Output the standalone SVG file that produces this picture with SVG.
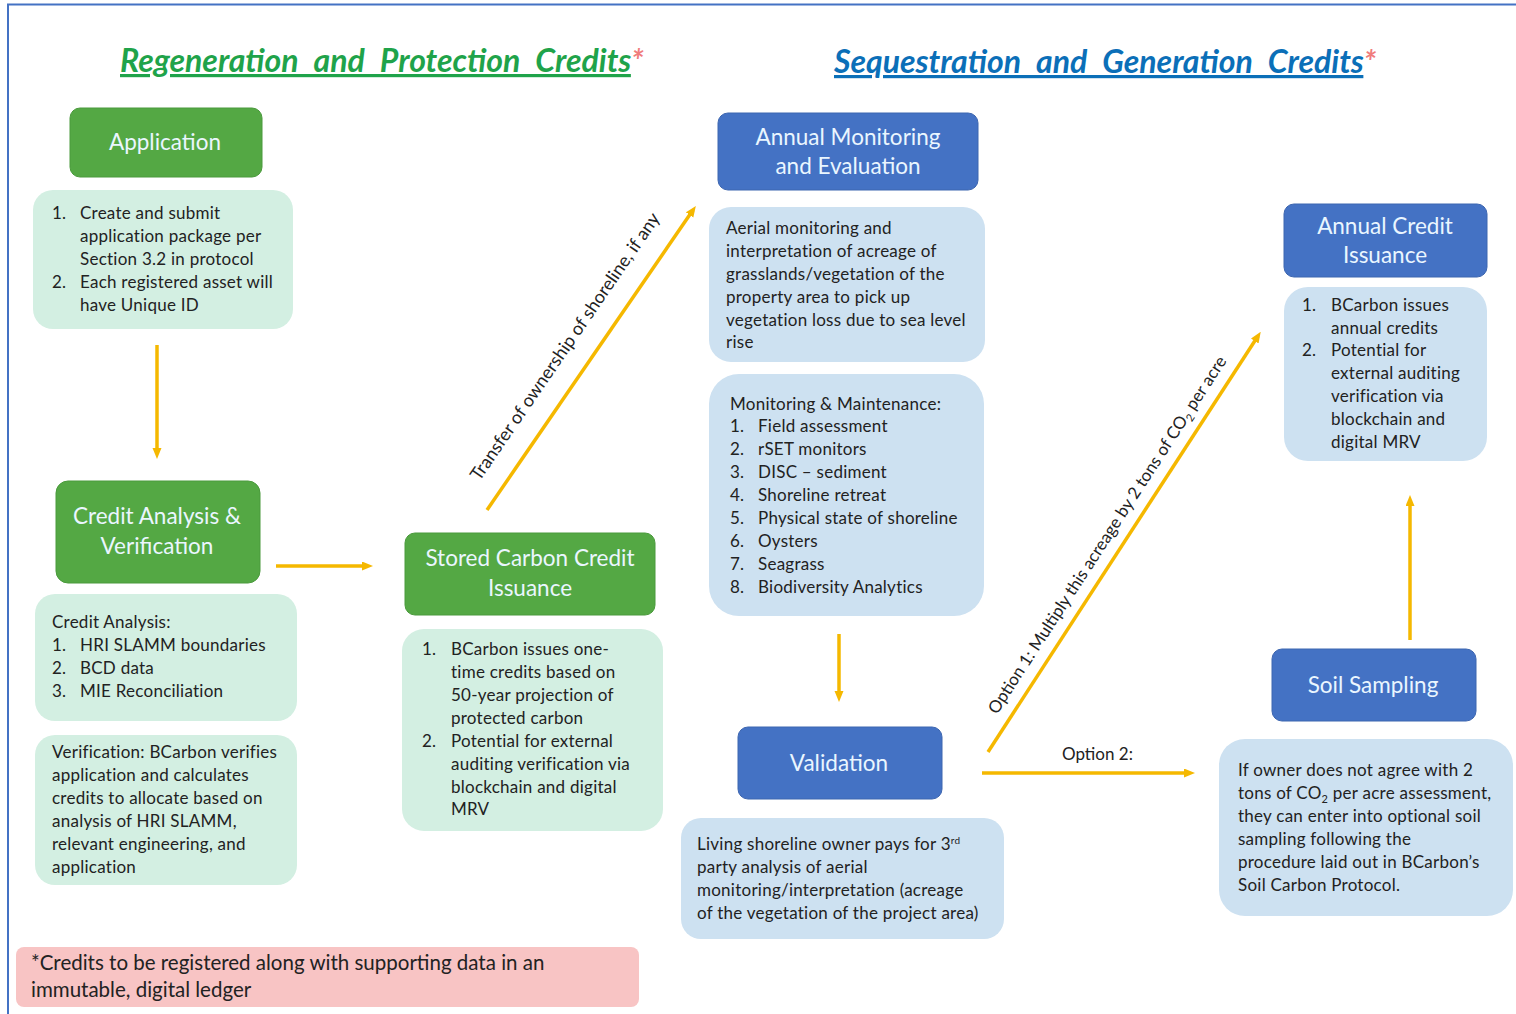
<svg xmlns="http://www.w3.org/2000/svg" width="1516" height="1014" viewBox="0 0 1516 1014">
<defs>
<marker id="ah" markerWidth="11" markerHeight="10" refX="6" refY="4.5" orient="auto" markerUnits="userSpaceOnUse">
<path d="M0,0 L11,4.5 L0,9 Z" fill="#f5b800"/>
</marker>
<style>
.t{font-family:Lato,"Open Sans","Liberation Sans",sans-serif;font-size:17px;letter-spacing:0.25px;fill:#222}
.h{font-family:Lato,"Open Sans","Liberation Sans",sans-serif;font-size:22.5px;fill:#eaf6ff;text-anchor:middle}
.g{fill:#54a844;stroke:#4a9a3c;stroke-width:1}
.b{fill:#4472c4;stroke:#3d66b0;stroke-width:1}
.lg{fill:#d3efe2}
.lb{fill:#cde1f1}
.c{stroke:#f5b800;stroke-width:3.5;fill:none}
.ti{font-family:Lato,"Open Sans","Liberation Sans",sans-serif;font-size:32px;word-spacing:8px;font-weight:bold;font-style:italic}
.u{text-decoration:underline}
.lab{font-family:Lato,"Open Sans","Liberation Sans",sans-serif;font-size:17px;fill:#222}
</style>
</defs>
<rect width="1516" height="1014" fill="#fff"/>
<path d="M8,1014 L8,4.5 L1516,4.5" fill="none" stroke="#4472c4" stroke-width="2"/>

<g id="titles">
<text x="120" y="72" class="ti" fill="#1fa34a"><tspan class="u">Regeneration and Protection Credits</tspan><tspan fill="#f07c7c">*</tspan></text>
<text x="834" y="73" class="ti" fill="#0b6fb8"><tspan class="u">Sequestration and Generation Credits</tspan><tspan fill="#f07c7c">*</tspan></text>
</g>

<g id="connectors">
<line x1="157" y1="345" x2="157" y2="454" class="c" marker-end="url(#ah)"/>
<line x1="276" y1="566" x2="368" y2="566" class="c" marker-end="url(#ah)"/>
<line x1="487" y1="510" x2="693" y2="210" class="c" marker-end="url(#ah)"/>
<line x1="839" y1="634" x2="839" y2="697" class="c" marker-end="url(#ah)"/>
<line x1="988" y1="752" x2="1258" y2="336" class="c" marker-end="url(#ah)"/>
<line x1="982" y1="773" x2="1190" y2="773" class="c" marker-end="url(#ah)"/>
<line x1="1410" y1="640" x2="1410" y2="500" class="c" marker-end="url(#ah)"/>
<text class="lab" transform="translate(570,350) rotate(-55.5)" text-anchor="middle" style="font-size:18px">Transfer of ownership of shoreline, if any</text>
<text class="lab" transform="translate(1112,538) rotate(-57)" text-anchor="middle">Option 1: Multiply this acreage by 2 tons of CO<tspan font-size="11" dy="4">2</tspan><tspan dy="-4"> per acre</tspan></text>
<text class="lab" x="1062" y="760">Option 2:</text>
</g>

<g id="application">
<rect x="70" y="108" width="192" height="69" rx="10" class="g"/>
<text x="165" y="150" class="h">Application</text>
</g>
<g id="application-detail">
<rect x="33" y="190" width="260" height="139" rx="20" class="lg"/>
<text class="t"><tspan x="52" y="219">1.</tspan><tspan x="80" y="219">Create and submit</tspan><tspan x="80" y="242">application package per</tspan><tspan x="80" y="265">Section 3.2 in protocol</tspan><tspan x="52" y="288">2.</tspan><tspan x="80" y="288">Each registered asset will</tspan><tspan x="80" y="311">have Unique ID</tspan></text>
</g>

<g id="credit-analysis">
<rect x="56" y="481" width="204" height="102" rx="12" class="g"/>
<text x="157" y="524" class="h">Credit Analysis &amp;</text>
<text x="157" y="554" class="h">Verification</text>
</g>
<g id="credit-analysis-detail">
<rect x="35" y="594" width="262" height="127" rx="20" class="lg"/>
<text class="t"><tspan x="52" y="628">Credit Analysis:</tspan><tspan x="52" y="651">1.</tspan><tspan x="80" y="651">HRI SLAMM  boundaries</tspan><tspan x="52" y="674">2.</tspan><tspan x="80" y="674">BCD data</tspan><tspan x="52" y="697">3.</tspan><tspan x="80" y="697">MIE Reconciliation</tspan></text>
</g>
<g id="verification-detail">
<rect x="35" y="735" width="262" height="150" rx="20" class="lg"/>
<text class="t"><tspan x="52" y="758">Verification: BCarbon verifies</tspan><tspan x="52" y="781">application and calculates</tspan><tspan x="52" y="804">credits to allocate based on</tspan><tspan x="52" y="827">analysis of HRI SLAMM,</tspan><tspan x="52" y="850">relevant engineering, and</tspan><tspan x="52" y="873">application</tspan></text>
</g>

<g id="stored-carbon">
<rect x="405" y="533" width="250" height="82" rx="10" class="g"/>
<text x="530" y="566" class="h">Stored Carbon Credit</text>
<text x="530" y="596" class="h">Issuance</text>
</g>
<g id="stored-carbon-detail">
<rect x="402" y="629" width="261" height="202" rx="22" class="lg"/>
<text class="t"><tspan x="422" y="655">1.</tspan><tspan x="451" y="655">BCarbon issues one-</tspan><tspan x="451" y="678">time credits based on</tspan><tspan x="451" y="701">50-year projection of</tspan><tspan x="451" y="724">protected carbon</tspan><tspan x="422" y="747">2.</tspan><tspan x="451" y="747">Potential for external</tspan><tspan x="451" y="770">auditing verification via</tspan><tspan x="451" y="793">blockchain and digital</tspan><tspan x="451" y="815">MRV</tspan></text>
</g>

<g id="annual-monitoring">
<rect x="718" y="113" width="260" height="77" rx="10" class="b"/>
<text x="848" y="145" class="h">Annual Monitoring</text>
<text x="848" y="174" class="h">and Evaluation</text>
</g>
<g id="aerial-detail">
<rect x="709" y="207" width="276" height="155" rx="22" class="lb"/>
<text class="t"><tspan x="726" y="234">Aerial monitoring  and</tspan><tspan x="726" y="257">interpretation of acreage of</tspan><tspan x="726" y="280">grasslands/vegetation of the</tspan><tspan x="726" y="303">property area to pick up</tspan><tspan x="726" y="326">vegetation loss due to sea level</tspan><tspan x="726" y="348">rise</tspan></text>
</g>
<g id="maintenance-detail">
<rect x="709" y="374" width="275" height="242" rx="30" class="lb"/>
<text class="t"><tspan x="730" y="410">Monitoring  &amp; Maintenance:</tspan><tspan x="730" y="432">1.</tspan><tspan x="758" y="432">Field assessment</tspan><tspan x="730" y="455">2.</tspan><tspan x="758" y="455">rSET monitors</tspan><tspan x="730" y="478">3.</tspan><tspan x="758" y="478">DISC – sediment</tspan><tspan x="730" y="501">4.</tspan><tspan x="758" y="501">Shoreline retreat</tspan><tspan x="730" y="524">5.</tspan><tspan x="758" y="524">Physical state of shoreline</tspan><tspan x="730" y="547">6.</tspan><tspan x="758" y="547">Oysters</tspan><tspan x="730" y="570">7.</tspan><tspan x="758" y="570">Seagrass</tspan><tspan x="730" y="593">8.</tspan><tspan x="758" y="593">Biodiversity Analytics</tspan></text>
</g>

<g id="validation">
<rect x="738" y="727" width="204" height="72" rx="10" class="b"/>
<text x="839" y="771" class="h">Validation</text>
</g>
<g id="validation-detail">
<rect x="681" y="818" width="323" height="121" rx="20" class="lb"/>
<text class="t"><tspan x="697" y="850">Living shoreline owner  pays for 3</tspan><tspan font-size="10" dy="-6">rd</tspan><tspan x="697" y="873">party analysis of aerial</tspan><tspan x="697" y="896">monitoring/interpretation  (acreage</tspan><tspan x="697" y="919">of the vegetation of the project area)</tspan></text>
</g>

<g id="annual-credit">
<rect x="1284" y="204" width="203" height="73" rx="10" class="b"/>
<text x="1385" y="234" class="h">Annual Credit</text>
<text x="1385" y="263" class="h">Issuance</text>
</g>
<g id="annual-credit-detail">
<rect x="1284" y="287" width="203" height="174" rx="24" class="lb"/>
<text class="t"><tspan x="1302" y="311">1.</tspan><tspan x="1331" y="311">BCarbon issues</tspan><tspan x="1331" y="334">annual credits</tspan><tspan x="1302" y="356">2.</tspan><tspan x="1331" y="356">Potential for</tspan><tspan x="1331" y="379">external auditing</tspan><tspan x="1331" y="402">verification via</tspan><tspan x="1331" y="425">blockchain and</tspan><tspan x="1331" y="448">digital MRV</tspan></text>
</g>

<g id="soil-sampling">
<rect x="1272" y="649" width="204" height="72" rx="10" class="b"/>
<text x="1373" y="693" class="h">Soil Sampling</text>
</g>
<g id="soil-detail">
<rect x="1219" y="739" width="294" height="177" rx="26" class="lb"/>
<text class="t"><tspan x="1238" y="776">If owner  does not agree with 2</tspan><tspan x="1238" y="799">tons of CO</tspan><tspan font-size="11" dy="4">2</tspan><tspan dy="-4"> per acre assessment,</tspan><tspan x="1238" y="822">they can enter into optional  soil</tspan><tspan x="1238" y="845">sampling following the</tspan><tspan x="1238" y="868">procedure  laid out in BCarbon’s</tspan><tspan x="1238" y="891">Soil Carbon Protocol.</tspan></text>
</g>

<g id="footnote">
<rect x="16" y="947" width="623" height="60" rx="8" fill="#f8c4c4"/>
<text class="t" style="font-size:20.5px;letter-spacing:0"><tspan x="31" y="970">*Credits to be registered along with supporting data in an</tspan><tspan x="31" y="997">immutable, digital ledger</tspan></text>
</g>
</svg>
